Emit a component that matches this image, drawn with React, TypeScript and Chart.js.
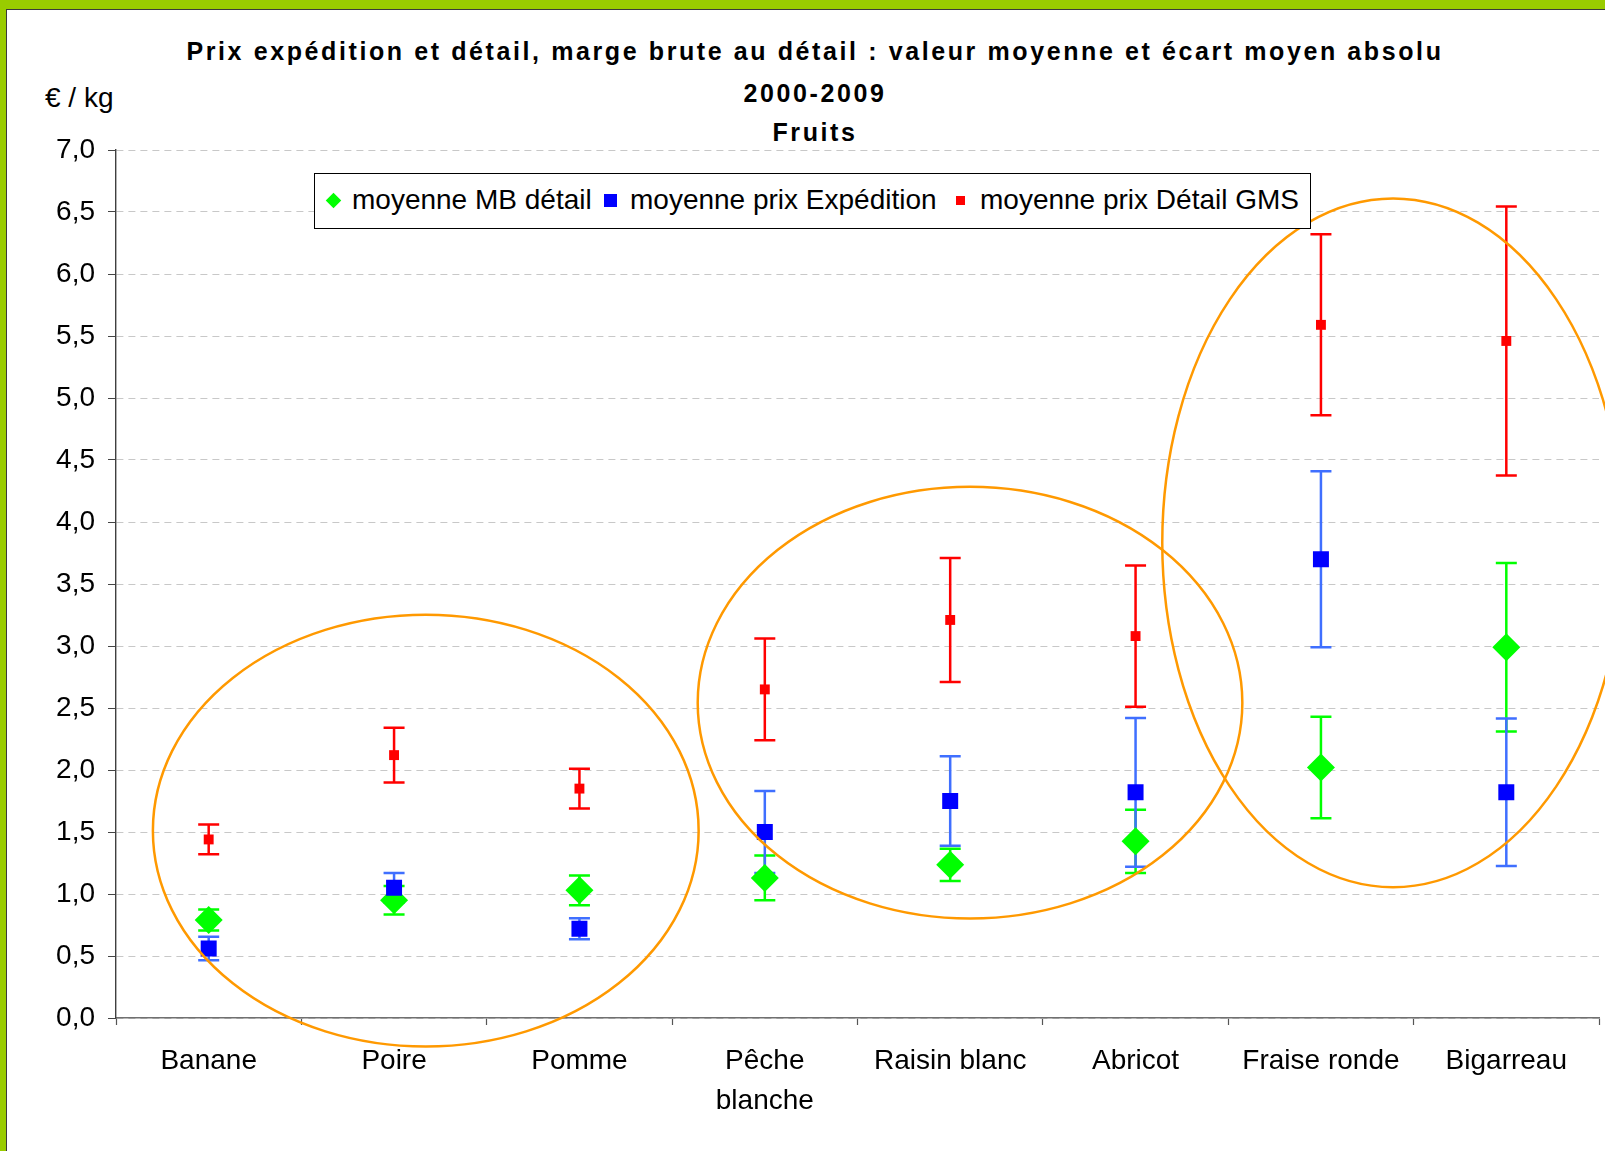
import React, { useEffect, useRef } from "react";
import { Chart, registerables } from "chart.js";

Chart.register(...registerables);

// ---- Data ----
const categories: (string | string[])[] = [
  "Banane",
  "Poire",
  "Pomme",
  ["Pêche", "blanche"],
  "Raisin blanc",
  "Abricot",
  "Fraise ronde",
  "Bigarreau",
];

const mbMean = [0.79, 0.95, 1.03, 1.13, 1.235, 1.425, 2.02, 2.99];
const mbErr = [0.085, 0.115, 0.12, 0.18, 0.13, 0.255, 0.41, 0.68];

const expMean = [0.56, 1.05, 0.72, 1.5, 1.75, 1.82, 3.7, 1.82];
const expErr = [0.095, 0.12, 0.085, 0.33, 0.36, 0.6, 0.71, 0.595];

const gmsMean = [1.44, 2.12, 1.85, 2.65, 3.21, 3.08, 5.59, 5.46];
const gmsErr = [0.12, 0.22, 0.16, 0.41, 0.5, 0.57, 0.73, 1.085];

const seriesNames = [
  "moyenne MB détail",
  "moyenne prix Expédition",
  "moyenne prix Détail GMS",
];

const yTicksMin = 0;
const yTicksMax = 7;
const yTicksStep = 0.5;

// Highlight ellipses in data units (category index / value)
const ellipseCx = [1.171, 4.107, 6.389];
const ellipseCy = [1.511, 2.543, 3.832];
const ellipseRx = [1.472, 1.469, 1.245];
const ellipseRy = [1.741, 1.741, 2.777];

const titleLines = [
  "Prix expédition et détail, marge brute au détail : valeur moyenne et écart moyen absolu",
  "2000-2009",
  "Fruits",
];
const yUnit = "€ / kg";

const FONT = '"Liberation Sans", Arial, Helvetica, sans-serif';

const errorBarPlugin = {
  id: "errorBars",
  beforeDatasetsDraw(chart: any) {
    const ctx = chart.ctx;
    const yScale = chart.scales.y;
    chart.data.datasets.forEach((ds: any, i: number) => {
      const meta = chart.getDatasetMeta(i);
      const errs: number[] = ds.errors;
      ctx.save();
      ctx.strokeStyle = ds.errorColor;
      ctx.lineWidth = 2.5;
      ctx.setLineDash([]);
      meta.data.forEach((pt: any, j: number) => {
        const v = ds.data[j];
        const e = errs[j];
        const yTop = yScale.getPixelForValue(v + e);
        const yBot = yScale.getPixelForValue(v - e);
        const x = pt.x;
        const cap = 10.5;
        ctx.beginPath();
        ctx.moveTo(x, yTop);
        ctx.lineTo(x, yBot);
        ctx.moveTo(x - cap, yTop);
        ctx.lineTo(x + cap, yTop);
        ctx.moveTo(x - cap, yBot);
        ctx.lineTo(x + cap, yBot);
        ctx.stroke();
      });
      ctx.restore();
    });
  },
};

const ellipsePlugin = {
  id: "ellipses",
  afterDraw(chart: any) {
    const ctx = chart.ctx;
    const xs = chart.scales.x;
    const ys = chart.scales.y;
    ctx.save();
    ctx.strokeStyle = "#FF9900";
    ctx.lineWidth = 2.5;
    for (let i = 0; i < ellipseCx.length; i++) {
      const cx = xs.getPixelForValue(ellipseCx[i]);
      const cy = ys.getPixelForValue(ellipseCy[i]);
      const rx = Math.abs(xs.getPixelForValue(ellipseCx[i] + ellipseRx[i]) - cx);
      const ry = Math.abs(ys.getPixelForValue(ellipseCy[i] + ellipseRy[i]) - cy);
      ctx.beginPath();
      ctx.ellipse(cx, cy, rx, ry, 0, 0, Math.PI * 2);
      ctx.stroke();
    }
    ctx.restore();
  },
};

export default function App() {
  const canvasRef = useRef<HTMLCanvasElement | null>(null);

  useEffect(() => {
    if (!canvasRef.current) return;
    const chart = new Chart(canvasRef.current, {
      type: "line",
      data: {
        labels: categories as any,
        datasets: [
          {
            label: seriesNames[0],
            data: mbMean,
            showLine: false,
            pointStyle: "rectRot",
            pointRadius: 14,
            pointBorderWidth: 0,
            pointBackgroundColor: "#00FF00",
            borderColor: "#00FF00",
            order: 3,
            errors: mbErr,
            errorColor: "#00FF00",
          } as any,
          {
            label: seriesNames[1],
            data: expMean,
            showLine: false,
            pointStyle: "rect",
            pointRadius: 11.3,
            pointBorderWidth: 0,
            pointBackgroundColor: "#0000FF",
            borderColor: "#0000FF",
            order: 2,
            errors: expErr,
            errorColor: "#3F6FFF",
          } as any,
          {
            label: seriesNames[2],
            data: gmsMean,
            showLine: false,
            pointStyle: "rect",
            pointRadius: 7,
            pointBorderWidth: 0,
            pointBackgroundColor: "#FF0000",
            borderColor: "#FF0000",
            order: 1,
            errors: gmsErr,
            errorColor: "#FF0000",
          } as any,
        ],
      },
      options: {
        responsive: false,
        animation: false,
        events: [],
        layout: { padding: { top: 150, right: 0, bottom: 0, left: 0 } },
        plugins: {
          legend: { display: false },
          title: { display: false },
          tooltip: { enabled: false },
        },
        scales: {
          x: {
            type: "category",
            offset: true,
            grid: {
              offset: true,
              drawOnChartArea: false,
              drawTicks: true,
              tickLength: 7,
              tickColor: "#555555",
              tickWidth: 1.2,
            },
            border: { display: true, color: "#707070", width: 1.6 },
            ticks: {
              color: "#000000",
              font: { family: FONT, size: 28, lineHeight: 1.43 },
              padding: 16,
              maxRotation: 0,
              autoSkip: false,
            },
            afterFit: (s: any) => {
              s.height = 133;
            },
          },
          y: {
            type: "linear",
            min: yTicksMin,
            max: yTicksMax,
            grid: {
              color: "#C8C8C8",
              lineWidth: 1,
              drawTicks: true,
              tickLength: 8,
              tickColor: "#444444",
              tickWidth: 1.2,
              tickBorderDash: [1, 0],
            },
            border: { display: true, color: "#404040", width: 1.4, dash: [7, 5] },
            ticks: {
              stepSize: yTicksStep,
              color: "#000000",
              font: { family: FONT, size: 28 },
              padding: 13,
              callback: (v: any) => Number(v).toFixed(1).replace(".", ","),
            },
            afterFit: (s: any) => {
              s.width = 116;
            },
          },
        },
      } as any,
      plugins: [errorBarPlugin, ellipsePlugin],
    });
    return () => chart.destroy();
  }, []);

  const textBase: React.CSSProperties = {
    position: "absolute",
    fontFamily: FONT,
    color: "#000",
    whiteSpace: "nowrap",
  };

  const titleTops = [31, 73, 112];

  return (
    <div
      style={{
        position: "fixed",
        left: 0,
        top: 0,
        width: 1605,
        height: 1151,
        background: "#99CC00",
        overflow: "hidden",
      }}
    >
      <div
        style={{
          position: "absolute",
          left: 6,
          top: 9,
          width: 1700,
          height: 1300,
          background: "#FFFFFF",
          borderTop: "1.5px solid #3a3a3a",
          borderLeft: "1.5px solid #3a3a3a",
        }}
      />
      {titleLines.map((t, i) => (
        <div
          key={i}
          style={{
            ...textBase,
            left: 815,
            top: titleTops[i],
            transform: "translateX(-50%)",
            fontWeight: "bold",
            fontSize: 25,
            lineHeight: "40px",
            letterSpacing: "2.6px",
          }}
        >
          {t}
        </div>
      ))}
      <div style={{ ...textBase, left: 45, top: 82, fontSize: 28, lineHeight: "32px" }}>
        {yUnit}
      </div>
      <canvas
        ref={canvasRef}
        width={1613}
        height={1151}
        style={{ position: "absolute", left: 0, top: 0, width: 1613, height: 1151 }}
      />
      {/* Legend */}
      <div
        style={{
          position: "absolute",
          left: 314,
          top: 173,
          width: 995,
          height: 54,
          border: "1.5px solid #000",
          background: "#FFFFFF",
        }}
      />
      <div
        style={{
          position: "absolute",
          left: 333 - 5.5,
          top: 200 - 5.5,
          width: 11,
          height: 11,
          background: "#00FF00",
          transform: "rotate(45deg)",
        }}
      />
      <div style={{ ...textBase, left: 352, top: 184, fontSize: 28, lineHeight: "32px" }}>
        {seriesNames[0]}
      </div>
      <div
        style={{
          position: "absolute",
          left: 610 - 6.5,
          top: 200 - 6.5,
          width: 13,
          height: 13,
          background: "#0000FF",
        }}
      />
      <div style={{ ...textBase, left: 630, top: 184, fontSize: 28, lineHeight: "32px" }}>
        {seriesNames[1]}
      </div>
      <div
        style={{
          position: "absolute",
          left: 960 - 4.5,
          top: 200 - 4.5,
          width: 9,
          height: 9,
          background: "#FF0000",
        }}
      />
      <div style={{ ...textBase, left: 980, top: 184, fontSize: 28, lineHeight: "32px" }}>
        {seriesNames[2]}
      </div>
    </div>
  );
}
